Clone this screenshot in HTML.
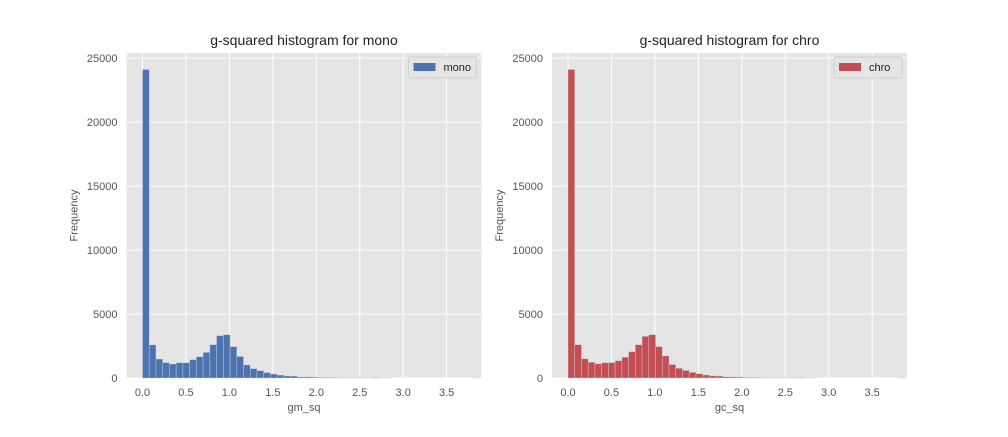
<!DOCTYPE html>
<html><head><meta charset="utf-8"><style>
body{margin:0;background:#fff;width:1008px;height:432px;overflow:hidden}
text{font-family:"Liberation Sans",sans-serif}
</style></head><body>
<svg id="fig" width="1008" height="432" xmlns="http://www.w3.org/2000/svg"></svg>
<script>
const binStart = 0;
const binWidth = 0.0775;
const monoCounts = [24100,2590,1480,1200,1090,1190,1190,1430,1660,2000,2600,3300,3380,2450,1680,1020,730,570,420,310,230,160,150,80,80,70,40,30,30,20,10,10,10,10,30,5,5,0,0,0,0,0,0,0,0,0,0,0,0,5];
const chroCounts = [24100,2600,1500,1230,1110,1190,1200,1350,1620,2050,2600,3250,3380,2450,1720,1050,760,590,440,330,240,170,150,90,80,70,45,30,30,20,10,10,10,10,25,5,5,0,0,0,0,0,0,0,0,0,0,0,0,5];
const xTicks = [0.0,0.5,1.0,1.5,2.0,2.5,3.0,3.5];
const yTicks = [0,5000,10000,15000,20000,25000];
const NS="http://www.w3.org/2000/svg";
const fig=document.getElementById('fig');
function mk(tag,attrs,parent){const e=document.createElementNS(NS,tag);for(const k in attrs)e.setAttribute(k,attrs[k]);(parent||fig).appendChild(e);return e;}
function panel(x0,title,xlabel,label,counts,color,prefix){
  const top=53,bottom=378,w=355;
  const xs=v=>x0+16+v*86.9;
  const ys=v=>bottom-v*0.0128;
  const g=mk('g',{});
  
  
  const bg=mk('rect',{x:x0,y:top,width:w,height:bottom-top,fill:'#e5e5e5'},g);
  
  
  xTicks.forEach(t=>{
    const l=mk('line',{x1:xs(t),x2:xs(t),y1:top,y2:bottom,stroke:'#fff','stroke-width':1},g);
    
    
    const tx=mk('text',{x:xs(t),y:bottom+18,'text-anchor':'middle','font-size':11,fill:'#555'},g);
    tx.textContent=t.toFixed(1);
    
    
  });
  yTicks.forEach(t=>{
    const l=mk('line',{x1:x0,x2:x0+w,y1:ys(t),y2:ys(t),stroke:'#fff','stroke-width':1},g);
    
    
    const tx=mk('text',{x:x0-9,y:ys(t)+4,'text-anchor':'end','font-size':11,fill:'#555'},g);
    tx.textContent=String(t);
    
    
  });
  counts.forEach((c,i)=>{
    const a=binStart+i*binWidth;
    const r=mk('rect',{x:xs(a),y:ys(c),width:xs(a+binWidth)-xs(a),height:ys(0)-ys(c),fill:color,stroke:'#c8d0e0','stroke-width':0.6,'stroke-opacity':0.7},g);
    
    
  });
  const tt=mk('text',{x:x0+w/2,y:top-8,'text-anchor':'middle','font-size':14,fill:'#222'},g);
  tt.textContent=title;
  
  
  const xl=mk('text',{x:x0+w/2,y:bottom+33,'text-anchor':'middle','font-size':11,fill:'#555'},g);
  xl.textContent=xlabel;
  
  
  const yl=mk('text',{x:0,y:0,'text-anchor':'middle','font-size':11,fill:'#555',transform:`translate(${x0-49},${(top+bottom)/2}) rotate(-90)`},g);
  yl.textContent='Frequency';
  
  
  const lg=mk('g',{},g);
  
  
  mk('rect',{x:x0+w-73,y:top+4,width:68,height:21,rx:2,fill:'#e5e5e5',stroke:'#d0d0d0'},lg);
  mk('rect',{x:x0+w-68,y:top+10,width:22,height:8,fill:color},lg);
  const lt=mk('text',{x:x0+w-38,y:top+18,'font-size':11,fill:'#222'},lg);
  lt.textContent=label;
  
  
}
panel(126.5,'g-squared histogram for mono','gm_sq','mono',monoCounts,'#4c72b0','mono');
panel(552,'g-squared histogram for chro','gc_sq','chro',chroCounts,'#c44e52','chro');
</script>
</body></html>
